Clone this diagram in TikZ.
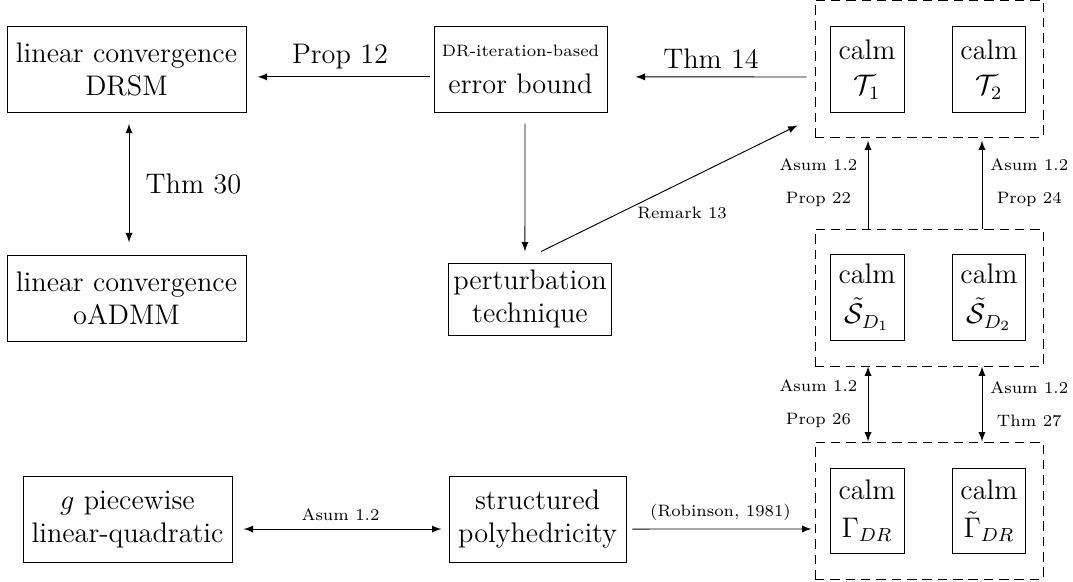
\documentclass[tikz,border=0pt]{standalone}
\usepackage{amsmath}
\begin{document}
\begin{tikzpicture}[font=\large, >=latex]
	\tikzstyle{block}=[rectangle, draw=black, align=center, inner sep=2pt]
	\tikzstyle{calmbox}=[rectangle, draw=black, align=center, inner sep=1pt, minimum width=1.10cm, minimum height=1.27cm]
	\tikzstyle{group}=[rectangle, draw=black, dash pattern=on 4pt off 2.5pt, minimum width=3.395cm, minimum height=2.04cm]
	\tikzstyle{lab}=[font=\scriptsize, align=center]
	\useasboundingbox (0, 0) rectangle (15.978, 8.652);

	\draw node[group] at (13.834, 7.632) (gtop) {};
	\draw node[group] at (13.834, 4.222) (gmid) {};
	\draw node[group] at (13.834, 1.050) (gbot) {};

	\draw node[block, minimum width=3.56cm, minimum height=1.27cm] at (1.884, 7.617) (drsm) {linear convergence\\DRSM};
	\draw node[block, minimum width=3.56cm, minimum height=1.27cm] at (1.884, 4.207) (oadmm) {linear convergence\\oADMM};
	\draw node[block, minimum width=2.576cm, minimum height=1.27cm] at (7.751, 7.617) (errb) {{\scriptsize DR-iteration-based}\\[2pt]error bound};
	\draw node[block, minimum width=2.174cm, minimum height=1.072cm] at (7.892, 4.199) (pert) {perturbation\\technique};
	\draw node[block, minimum width=3.112cm, minimum height=1.281cm] at (1.899, 0.923) (gpw) {$g$ piecewise\\linear-quadratic};
	\draw node[block, minimum width=2.636cm, minimum height=1.281cm] at (8.004, 0.923) (poly) {structured\\polyhedricity};

	\draw node[calmbox] at (12.911, 7.617) (t1) {calm\\[1pt]$\mathcal{T}_1$};
	\draw node[calmbox] at (14.727, 7.617) (t2) {calm\\[1pt]$\mathcal{T}_2$};
	\draw node[calmbox] at (12.911, 4.222) (s1) {calm\\[3pt]$\tilde{\mathcal{S}}_{D_1}$};
	\draw node[calmbox] at (14.727, 4.222) (s2) {calm\\[3pt]$\tilde{\mathcal{S}}_{D_2}$};
	\draw node[calmbox] at (12.911, 1.042) (g1) {calm\\[2pt]$\Gamma_{DR}$};
	\draw node[calmbox] at (14.727, 1.042) (g2) {calm\\[2pt]$\tilde{\Gamma}_{DR}$};

	\draw [->, shorten <=1.7pt, shorten >=4.7pt] ([yshift=-0.11cm]errb.west) -- ([yshift=-0.11cm]drsm.east) node[midway, above] {Prop 12};
	\draw [->, shorten <=3.4pt, shorten >=11.9pt] ([yshift=-0.127cm]gtop.west) -- ([yshift=-0.11cm]errb.east) node[midway, above] {Thm 14};
	\draw [<->, shorten <=4.7pt, shorten >=5.5pt] ([xshift=0.037cm]drsm.south) -- ([xshift=0.037cm]oadmm.north) node[midway, right=3.5pt] {Thm 30};
	\draw [->, shorten <=4.7pt, shorten >=4.7pt] ([xshift=0.067cm]errb.south) -- ([xshift=-0.075cm]pert.north);
	\draw [->] ([shift={(0.164, 0.164)}]pert.north) -- ([shift={(-0.253, 0.179)}]gtop.south west) node[pos=.55, below=0.25cm, lab] {Remark 13};

	\draw [->, shorten >=1.3pt] ([xshift=-0.908cm]gmid.north) -- ([xshift=-0.908cm]gtop.south) node[midway, left=1pt, lab] {Asum 1.2\\[6pt]Prop 22};
	\draw [->, shorten >=1.3pt] ([xshift=0.789cm]gmid.north) -- ([xshift=0.789cm]gtop.south) node[midway, right, lab] {Asum 1.2\\[6pt]Prop 24};
	\draw [<->] ([xshift=-0.908cm]gmid.south) -- ([xshift=-0.908cm]gbot.north) node[midway, left=1pt, lab] {Asum 1.2\\[6pt]Prop 26};
	\draw [<->] ([xshift=0.789cm]gmid.south) -- ([xshift=0.789cm]gbot.north) node[midway, right, lab] {Asum 1.2\\[6pt]Thm 27};

	\draw [<->, shorten <=3pt, shorten >=4.7pt] ([yshift=-0.149cm]poly.west) -- ([yshift=-0.149cm]gpw.east) node[midway, above, lab] {Asum 1.2};
	\draw [->, shorten <=2.5pt, shorten >=1.3pt] ([yshift=-0.149cm]poly.east) -- ([yshift=-0.275cm]gbot.west) node[midway, above, lab] {(Robinson, 1981)};
\end{tikzpicture}
\end{document}
